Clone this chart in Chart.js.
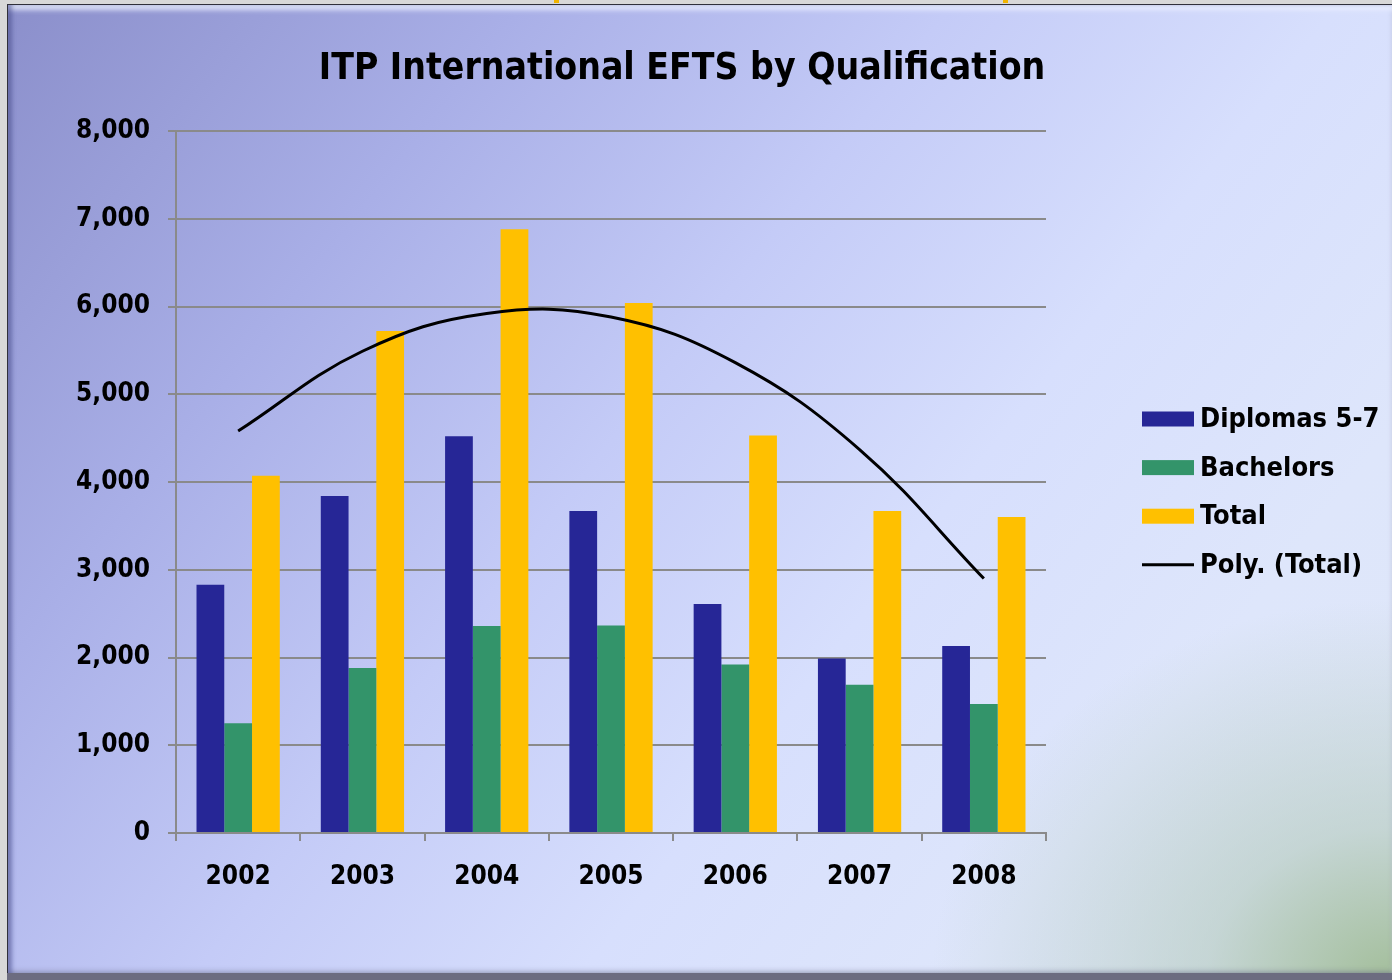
<!DOCTYPE html>
<html>
<head>
<meta charset="utf-8">
<script src="https://cdn.jsdelivr.net/npm/chart.js@4.4.1/dist/chart.umd.min.js"></script>
<style>
  html, body { margin: 0; padding: 0; width: 1392px; height: 980px; overflow: hidden; background: #d8d8d8; }
  #panel {
    position: absolute; left: 7px; top: 4px; width: 1385px; height: 976px; box-sizing: border-box;
    border-left: 1px solid #30303a; border-top: 1px solid #30303a;
    background:
      radial-gradient(ellipse 460px 380px at 100% 100%, rgba(160,188,150,0.95) 0%, rgba(180,202,188,0.6) 40%, rgba(215,228,250,0) 100%),
      linear-gradient(128deg, #8b8fcb 0%, #a9afe7 24%, #c4cbf7 44%, #d7dffd 62%, #dee6fb 80%, #dfe7f8 100%);
    box-shadow:
      inset 5px 0 4px -1px rgba(70,74,140,0.55),
      inset 0 7px 5px -2px rgba(235,240,255,0.85),
      inset 0 -10px 6px -3px rgba(90,92,120,0.75);
  }
  #bottom { position: absolute; left: 7px; top: 973px; width: 1385px; height: 7px; background: #6c6c80; }
  .ymark { position: absolute; top: 0; width: 5px; height: 3px; background: #f0b400; }
  #c { position: absolute; left: -23px; top: 0; }
</style>
</head>
<body>
<div id="panel"></div>
<div id="bottom"></div>
<div class="ymark" style="left:554px"></div>
<div class="ymark" style="left:1003px"></div>
<canvas id="c" width="1415" height="980"></canvas>
<script>
const years = ['2002', '2003', '2004', '2005', '2006', '2007', '2008'];
const diplomas = [2830, 3840, 4520, 3670, 2610, 1990, 2130];
const bachelors = [1250, 1880, 2360, 2365, 1920, 1690, 1470];
const total = [4070, 5720, 6880, 6040, 4530, 3670, 3600];
// polynomial trend line of Total at each year
const trend = [4580, 5490, 5920, 5880, 5360, 4370, 2900];
const yTicks = [0, 1000, 2000, 3000, 4000, 5000, 6000, 7000, 8000];
const seriesNames = ['Diplomas 5-7', 'Bachelors', 'Total', 'Poly. (Total)'];

const FONT = '"DejaVu Sans Condensed", "DejaVu Sans", sans-serif';
const GRID = '#8a8a8a';

// legend drawn to the right of the plot, from the chart's own datasets
const sideLegend = {
  id: 'sideLegend',
  afterDraw(chart) {
    const ctx = chart.ctx;
    const boxLeft = chart.chartArea.right + 96;
    const boxW = 52, boxH = 15, firstY = 419, step = 48.6;
    ctx.save();
    ctx.font = 'bold 27px ' + FONT;
    ctx.textBaseline = 'middle';
    ctx.textAlign = 'left';
    chart.data.datasets.forEach((ds, i) => {
      const cy = firstY + i * step;
      if (ds.type === 'line') {
        ctx.strokeStyle = ds.borderColor;
        ctx.lineWidth = 3;
        ctx.beginPath();
        ctx.moveTo(boxLeft, cy);
        ctx.lineTo(boxLeft + boxW, cy);
        ctx.stroke();
      } else {
        ctx.fillStyle = ds.backgroundColor;
        ctx.fillRect(boxLeft, cy - boxH / 2, boxW, boxH);
      }
      ctx.fillStyle = '#000';
      ctx.fillText(ds.label, boxLeft + boxW + 6, cy + 1);
    });
    ctx.restore();
  }
};

new Chart(document.getElementById('c'), {
  type: 'bar',
  data: {
    labels: years,
    datasets: [
      { label: seriesNames[0], data: diplomas, backgroundColor: '#262696', borderWidth: 0, order: 1 },
      { label: seriesNames[1], data: bachelors, backgroundColor: '#33946a', borderWidth: 0, order: 1 },
      { label: seriesNames[2], data: total, backgroundColor: '#ffc000', borderWidth: 0, order: 1 },
      { type: 'line', label: seriesNames[3], data: trend,
        borderColor: '#000000', backgroundColor: '#000000', borderWidth: 3, pointRadius: 0,
        tension: 0.4, fill: false, order: 0 }
    ]
  },
  plugins: [sideLegend],
  options: {
    responsive: false,
    animation: false,
    layout: { padding: { left: 0, right: 5, top: 20, bottom: 20 } },
    datasets: {
      bar: { categoryPercentage: 0.67, barPercentage: 1.0 }
    },
    plugins: {
      tooltip: { enabled: false },
      legend: { display: false },
      title: {
        display: true,
        text: 'ITP International EFTS by Qualification',
        color: '#000',
        font: { family: FONT, size: 37, weight: 'bold', lineHeight: 1.2 },
        padding: { top: 27, bottom: 39.6 }
      }
    },
    scales: {
      x: {
        type: 'category',
        offset: true,
        afterFit: (s) => { s.height = 127; },
        grid: { display: true, drawOnChartArea: false, offset: true, color: GRID, lineWidth: 2, tickLength: 8 },
        border: { display: true, color: GRID, width: 2 },
        ticks: { color: '#000', font: { family: FONT, size: 26, weight: 'bold' }, padding: 21, maxRotation: 0 }
      },
      y: {
        type: 'linear',
        position: 'left',
        min: 0,
        max: 8000,
        afterFit: (s) => { s.width = 199; },
        afterBuildTicks: (s) => { s.ticks = yTicks.map(v => ({ value: v })); },
        grid: { color: GRID, lineWidth: 2, tickLength: 8 },
        border: { display: true, color: GRID, width: 2 },
        ticks: { color: '#000', font: { family: FONT, size: 26, weight: 'bold' }, padding: 18 }
      },
      yr: {
        type: 'linear',
        position: 'right',
        display: true,
        afterFit: (s) => { s.width = 341; },
        grid: { display: false },
        border: { display: false },
        ticks: { display: false }
      }
    }
  }
});
</script>
</body>
</html>
